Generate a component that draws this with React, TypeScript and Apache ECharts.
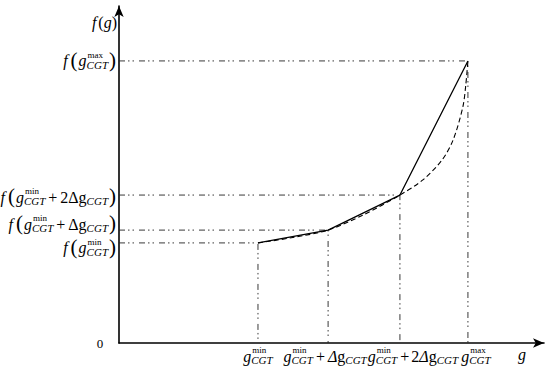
import React, { useEffect, useRef } from 'react';
import * as echarts from 'echarts';

// Key points: g_min, g_min+Δg, g_min+2Δg, g_max and their f values
const gValues = [3.27, 4.92, 6.61, 8.21];
const fValues = [2.97, 3.35, 4.39, 8.37];

// Dashed (smooth) curve
const curveG = [3.27, 4.09, 4.92, 5.76, 6.61, 7.15, 7.6, 7.86, 8.09, 8.16, 8.21];
const curveF = [2.97, 3.13, 3.35, 3.81, 4.39, 4.84, 5.43, 6.02, 7.0, 7.66, 8.37];

type Tok = [string, string | number, string?];

const wrapF = (inner: Tok[]): Tok[] => [
  ['i', 'f'], ['_', 3], ['p', '('], ['_', 1], ...inner, ['_', 1], ['p', ')'],
];

// y tick labels (same order as gValues/fValues)
const yTickLabels: Tok[][] = [
  wrapF([['i', 'g'], ['s', 'min', 'CGT']]),
  wrapF([['i', 'g'], ['s', 'min', 'CGT'], ['_', 3], ['r', '+'], ['_', 3], ['r', 'Δ'], ['r', 'g'], ['b', 'CGT']]),
  wrapF([['i', 'g'], ['s', 'min', 'CGT'], ['_', 3], ['r', '+'], ['_', 3], ['r', '2'], ['r', 'Δ'], ['r', 'g'], ['b', 'CGT']]),
  wrapF([['i', 'g'], ['s', 'max', 'CGT']]),
];
// x tick labels
const xTickLabels: Tok[][] = [
  [['i', 'g'], ['s', 'min', 'CGT']],
  [['i', 'g'], ['s', 'min', 'CGT'], ['_', 3], ['r', '+'], ['_', 3], ['i', 'Δ'], ['r', 'g'], ['b', 'CGT']],
  [['i', 'g'], ['s', 'min', 'CGT'], ['_', 3], ['r', '+'], ['_', 2], ['r', '2'], ['i', 'Δ'], ['r', 'g'], ['b', 'CGT']],
  [['i', 'g'], ['s', 'max', 'CGT']],
];
const yAxisName: Tok[] = [['i', 'f'], ['_', 2], ['r', '('], ['i', 'g'], ['r', ')']];
const xAxisName: Tok[] = [['i', 'g']];
const originLabel = '0';

// layout tweaks (pixels)
const yLabelDy = [5, -6, 2, 0];
const xLabelDx = [0, -3, 13, 8];

const FAMILY = 'Liberation Serif';
const MAIN = 16;
const SUP = 9;
const SUB = 11;
const PAREN = 21;

let ctx: CanvasRenderingContext2D | null = null;
function measure(text: string, size: number, italic: boolean) {
  if (!ctx) ctx = document.createElement('canvas').getContext('2d');
  if (!ctx) return text.length * size * 0.5;
  ctx.font = `${italic ? 'italic ' : ''}${size}px "${FAMILY}"`;
  return ctx.measureText(text).width;
}

function txt(text: string, x: number, y: number, size: number, italic: boolean) {
  return {
    type: 'text',
    x,
    y,
    silent: true,
    style: {
      text,
      fontSize: size,
      fontFamily: FAMILY,
      fontStyle: italic ? 'italic' : 'normal',
      fill: '#000',
      align: 'left',
      verticalAlign: 'middle',
    },
  };
}

function layout(tokens: Tok[]) {
  const els: any[] = [];
  let x = 0;
  for (const t of tokens) {
    const kind = t[0];
    if (kind === '_') {
      x += t[1] as number;
    } else if (kind === 'i' || kind === 'r') {
      const s = t[1] as string;
      els.push(txt(s, x, 0, MAIN, kind === 'i'));
      x += measure(s, MAIN, kind === 'i');
    } else if (kind === 'p') {
      const s = t[1] as string;
      els.push(txt(s, x, -1, PAREN, false));
      x += measure(s, PAREN, false);
    } else if (kind === 's') {
      const sup = t[1] as string;
      const sub = t[2] as string;
      els.push(txt(sup, x + 1, -6, SUP, false));
      els.push(txt(sub, x, 4, SUB, true));
      x += Math.max(measure(sup, SUP, false) + 1, measure(sub, SUB, true));
    } else if (kind === 'b') {
      const sub = t[1] as string;
      els.push(txt(sub, x, 4, SUB, true));
      x += measure(sub, SUB, true);
    }
  }
  return { els, width: x };
}

function group(tokens: Tok[], x: number, y: number, anchor: 'right' | 'center' | 'left') {
  const { els, width } = layout(tokens);
  const gx = anchor === 'right' ? x - width : anchor === 'center' ? x - width / 2 : x;
  return { type: 'group', x: gx, y, silent: true, children: els };
}

const guidePattern = [6, 3, 1.5, 3, 1.5, 5];

export default function App() {
  const ref = useRef<HTMLDivElement>(null);
  useEffect(() => {
    if (!ref.current) return;
    const chart = echarts.init(ref.current, null, { renderer: 'svg' });
    const guides = gValues.map((g, i) => ({
      type: 'line',
      data: [[0, fValues[i]], [g, fValues[i]], [g, 0]],
      symbol: 'none',
      silent: true,
      lineStyle: { color: '#222', width: 0.9, type: guidePattern },
      z: 1,
    }));
    chart.setOption({
      animation: false,
      grid: { left: 119, right: 6, top: 6, bottom: 26 },
      xAxis: {
        type: 'value',
        min: 0,
        max: 10,
        axisLine: {
          show: true,
          onZero: false,
          symbol: ['none', 'arrow'],
          symbolSize: [7, 11],
          lineStyle: { color: '#000', width: 1.6 },
        },
        axisTick: { show: false },
        axisLabel: { show: false },
        splitLine: { show: false },
      },
      yAxis: {
        type: 'value',
        min: 0,
        max: 10,
        axisLine: {
          show: true,
          onZero: false,
          symbol: ['none', 'arrow'],
          symbolSize: [7, 11],
          lineStyle: { color: '#000', width: 1.6 },
        },
        axisTick: { show: false },
        axisLabel: { show: false },
        splitLine: { show: false },
      },
      series: [
        ...guides,
        {
          type: 'line',
          data: curveG.map((g, i) => [g, curveF[i]]),
          smooth: 0.3,
          symbol: 'none',
          silent: true,
          lineStyle: { color: '#000', width: 1.1, type: [5, 3] },
          z: 2,
        },
        {
          type: 'line',
          data: gValues.map((g, i) => [g, fValues[i]]),
          symbol: 'none',
          silent: true,
          lineStyle: { color: '#000', width: 1.3, type: 'solid' },
          z: 3,
        },
      ],
    });

    const graphics: any[] = [];
    const origin = chart.convertToPixel({ xAxisIndex: 0, yAxisIndex: 0 }, [0, 0]) as number[];
    const top = chart.convertToPixel({ xAxisIndex: 0, yAxisIndex: 0 }, [10, 10]) as number[];
    gValues.forEach((g, i) => {
      const p = chart.convertToPixel({ xAxisIndex: 0, yAxisIndex: 0 }, [g, fValues[i]]) as number[];
      graphics.push(group(yTickLabels[i], origin[0] - 3, p[1] + yLabelDy[i], 'right'));
      graphics.push(group(xTickLabels[i], p[0] + xLabelDx[i], origin[1] + 13, 'center'));
    });
    graphics.push(group(yAxisName, origin[0] - 2, top[1] + 16, 'right'));
    graphics.push(group(xAxisName, top[0] - 26, origin[1] + 11, 'left'));
    graphics.push({
      type: 'text',
      x: origin[0] - 19,
      y: origin[1],
      silent: true,
      style: { text: originLabel, fontSize: 13, fontFamily: FAMILY, fill: '#000', align: 'center', verticalAlign: 'middle' },
    });
    chart.setOption({ graphic: graphics });

    return () => chart.dispose();
  }, []);
  return (
    <div
      ref={ref}
      style={{ position: 'fixed', left: 0, top: 0, width: 550, height: 369, background: '#fff' }}
    />
  );
}
